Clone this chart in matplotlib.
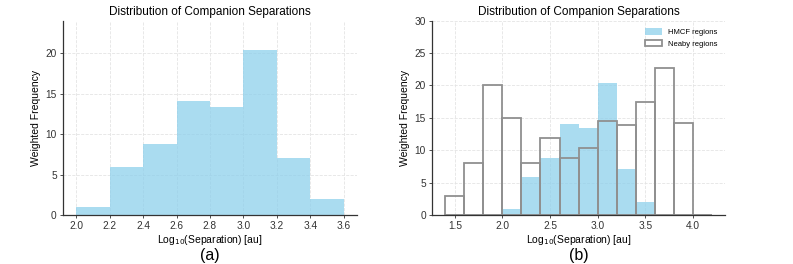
import numpy as np
import matplotlib
matplotlib.use("Agg")
import matplotlib.pyplot as plt

plt.rcParams["font.family"] = ["Liberation Sans", "DejaVu Sans"]

# ---------------------------------------------------------------------------
# Histogram data (weighted counts per 0.2 dex bin)
# ---------------------------------------------------------------------------
hmcf_edges = [2.0, 2.2, 2.4, 2.6, 2.8, 3.0, 3.2, 3.4, 3.6]
hmcf_weights = [1.0, 5.9, 8.8, 14.1, 13.4, 20.4, 7.1, 2.0]

nearby_edges = [1.4, 1.6, 1.8, 2.0, 2.2, 2.4, 2.6, 2.8, 3.0, 3.2, 3.4, 3.6,
                3.8, 4.0, 4.2]
nearby_weights = [3.0, 8.0, 20.0, 15.0, 8.0, 11.9, 8.8, 10.4, 14.5, 13.9,
                  17.5, 22.7, 14.2, 0.0]

left_xticks = [2.0, 2.2, 2.4, 2.6, 2.8, 3.0, 3.2, 3.4, 3.6]
right_xticks = [1.5, 2.0, 2.5, 3.0, 3.5, 4.0]

BLUE = "skyblue"
SPINE = "#333333"


def style_axes(ax):
    for side in ("top", "right"):
        ax.spines[side].set_visible(False)
    for side in ("left", "bottom"):
        ax.spines[side].set_color(SPINE)
        ax.spines[side].set_linewidth(0.9)
    ax.grid(True, linestyle="--", color="#e4e4e4", linewidth=0.6)
    ax.set_axisbelow(True)
    ax.tick_params(labelsize=7.3, length=2, width=0.6, colors=SPINE, pad=2.5)
    ax.set_title("Distribution of Companion Separations", fontsize=8.5, pad=4)
    ax.set_xlabel(r"Log$_{10}$(Separation) [au]", fontsize=7.5, labelpad=1)
    ax.set_ylabel("Weighted Frequency", fontsize=7.5, labelpad=3)


fig = plt.figure(figsize=(7.93, 2.64), dpi=100)

# ---------- (a) HMCF only ----------
ax1 = fig.add_axes([0.0794, 0.1856, 0.3707, 0.736])
centers = np.array(hmcf_edges[:-1]) + 0.1
ax1.hist(centers, bins=hmcf_edges, weights=hmcf_weights,
         color=BLUE, alpha=0.7)
ax1.set_ylim(0, 24)
ax1.set_xticks(left_xticks)
ax1.set_yticks([0, 5, 10, 15, 20])
style_axes(ax1)
fig.text(0.2648, 0.034, "(a)", ha="center", va="center", fontsize=11.5)

# ---------- (b) HMCF vs nearby ----------
ax2 = fig.add_axes([0.5448, 0.1856, 0.3695, 0.736])
ax2.hist(centers, bins=hmcf_edges, weights=hmcf_weights,
         color=BLUE, alpha=0.7, label="HMCF regions")
ncenters = np.array(nearby_edges[:-1]) + 0.1
ax2.hist(ncenters, bins=nearby_edges, weights=nearby_weights,
         histtype="bar", fill=False, edgecolor="#909090", linewidth=1.3,
         label="Neaby regions")
ax2.set_ylim(0, 30)
ax2.set_xticks(right_xticks)
ax2.set_yticks([0, 5, 10, 15, 20, 25, 30])
style_axes(ax2)
ax2.legend(loc="upper right", fontsize=5.5, frameon=False,
           handlelength=2.2, handleheight=0.9, borderaxespad=0.6)
fig.text(0.7296, 0.034, "(b)", ha="center", va="center", fontsize=11.5)

fig.savefig("out.png", dpi=100)
